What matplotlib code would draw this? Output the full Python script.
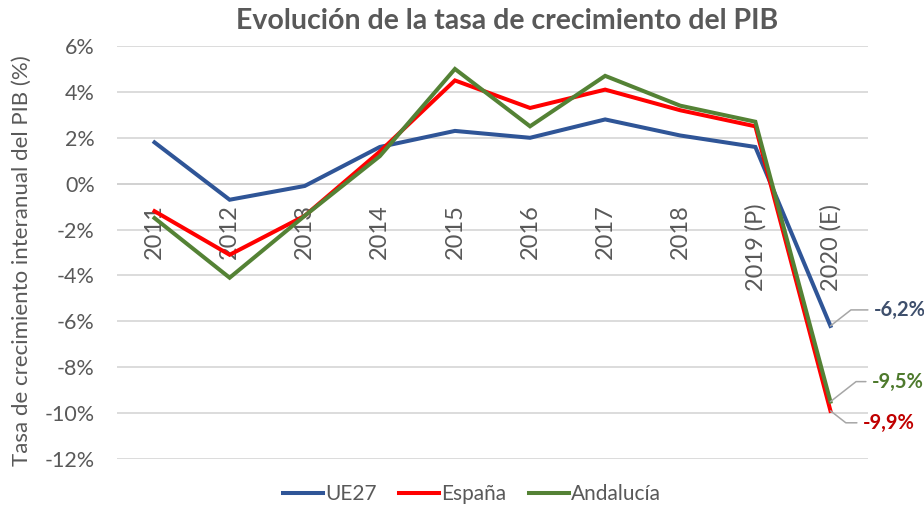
#!/usr/bin/env python3
"""
Evolución de la tasa de crecimiento del PIB - line chart
"""

import matplotlib
matplotlib.use('Agg')
import matplotlib.pyplot as plt

# Data
years = ['2011', '2012', '2013', '2014', '2015', '2016', '2017', '2018',
         '2019 (P)', '2020 (E)']
ue27 = [1.8, -0.7, -0.1, 1.6, 2.3, 2.0, 2.8, 2.1, 1.6, -6.2]
espana = [-1.2, -3.1, -1.4, 1.4, 4.5, 3.3, 4.1, 3.2, 2.5, -9.9]
andalucia = [-1.5, -4.1, -1.4, 1.2, 5.0, 2.5, 4.7, 3.4, 2.7, -9.5]
yticks = [6, 4, 2, 0, -2, -4, -6, -8, -10, -12]

GRAY = '#595959'
plt.rcParams['font.family'] = ['Lato', 'DejaVu Sans']


def make_chart():
    fig = plt.figure(figsize=(9.24, 5.08), dpi=100)
    ax = fig.add_axes([0.1266, 0.0965, 0.8128, 0.8129])

    x = list(range(len(years)))
    series = [
        ('UE27', ue27, '#2F5597', '#3E4F6C'),
        ('España', espana, '#FF0000', '#C00000'),
        ('Andalucía', andalucia, '#548235', '#4E7A2D'),
    ]
    for name, vals, color, _ in series:
        ax.plot(x, vals, color=color, lw=2.9, label=name, zorder=3,
                solid_joinstyle='miter')

    ax.set_xlim(-0.5, len(years) - 0.5)
    ax.set_ylim(-12, 6)
    ax.set_yticks(yticks)
    ax.set_yticklabels([f'{v}%' for v in yticks])
    ax.grid(axis='y', color='#D9D9D9', lw=1.3, zorder=0)
    ax.axhline(0, color='#898989', lw=1.3, zorder=1)

    for s in ax.spines.values():
        s.set_visible(False)

    # category labels sit just under the 0% line
    ax.set_xticks(x)
    ax.set_xticklabels([])
    for i, lab in enumerate(years):
        ax.annotate(lab, (i, 0), xytext=(0, -14.5), textcoords='offset points',
                    rotation=90, ha='center', va='top', fontsize=17,
                    color=GRAY, zorder=2)
    ax.tick_params(axis='both', length=0, colors=GRAY, labelsize=15.5)
    ax.tick_params(axis='y', pad=16)

    # data labels for the last point
    offsets = [(43, 16, 38), (32, -12, -38), (41, 20, 38)]
    for (name, vals, color, lcolor), (dx, dy, ang) in zip(series, offsets):
        v = vals[-1]
        ax.annotate(f'{v:.1f}%'.replace('.', ','), (len(vals) - 1, v),
                    xytext=(dx, dy), textcoords='offset pixels',
                    ha='left', va='center', fontsize=14.5, fontweight='bold',
                    color=lcolor,
                    arrowprops=dict(arrowstyle='-', color='#A6A6A6', lw=1.1,
                                    relpos=(0, 0.5), shrinkA=2, shrinkB=0,
                                    connectionstyle=f'angle,angleA=0,angleB={ang},rad=0'))

    fig.text(0.024, 1 - 261 / 508, 'Tasa de crecimiento interanual del PIB (%)',
             rotation=90, ha='center', va='center', fontsize=16, color=GRAY)
    fig.text(0.549, 0.958, 'Evolución de la tasa de crecimiento del PIB',
             ha='center', va='center', fontsize=20.5, fontweight='bold', color=GRAY)

    leg = fig.legend(loc='center', bbox_to_anchor=(472 / 924, 1 - 494 / 508),
                     ncol=3, frameon=False, fontsize=15, handlelength=1.9,
                     handletextpad=0.1, columnspacing=1.1)
    for t in leg.get_texts():
        t.set_color(GRAY)

    fig.savefig('out.png', dpi=100)
    plt.close(fig)


if __name__ == '__main__':
    make_chart()
